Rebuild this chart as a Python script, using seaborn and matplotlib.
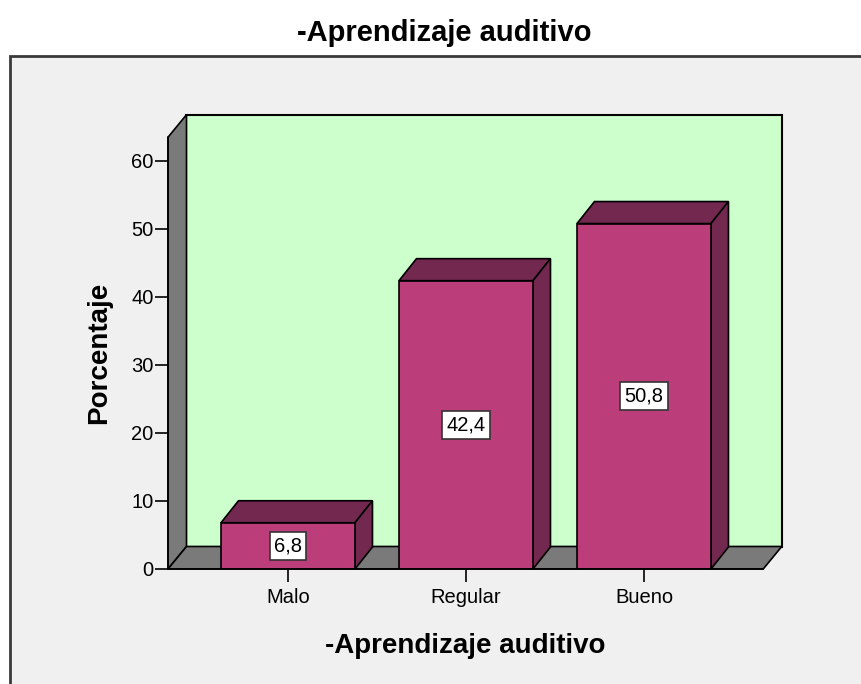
import matplotlib
matplotlib.use("Agg")
import matplotlib.pyplot as plt
from matplotlib.patches import Polygon, Rectangle
import seaborn as sns
import pandas as pd

categories = ["Malo", "Regular", "Bueno"]
values = [6.8, 42.4, 50.8]
value_labels = ["6,8", "42,4", "50,8"]
yticks = [0, 10, 20, 30, 40, 50, 60]
title = "-Aprendizaje auditivo"
xlabel = "-Aprendizaje auditivo"
ylabel = "Porcentaje"

sns.set_theme(style="white")
plt.rcParams['font.family'] = ['Liberation Sans', 'DejaVu Sans']
plt.rcParams['text.color'] = 'black'
plt.rcParams['axes.labelcolor'] = 'black'

W, H = 862, 684
fig = plt.figure(figsize=(W / 100, H / 100), dpi=100, facecolor="white")

# outer panel frame
fig.patches.append(Rectangle((10 / W, -20 / H), (W + 20) / W, (H - 56 + 20) / H,
                             transform=fig.transFigure, facecolor="#F0F0F0",
                             edgecolor="#3a3a3a", linewidth=2, zorder=-5))

# axes covering front plane + depth
px_left, px_right, px_top, px_bottom = 168, 782, 115, 569
ax = fig.add_axes([px_left / W, 1 - px_bottom / H,
                   (px_right - px_left) / W, (px_bottom - px_top) / H])
ax.set_zorder(2)
ax.set_facecolor("none")

px_per_x = 178.0
px_per_y = 6.8
x0 = -0.674
xmax = x0 + (px_right - px_left) / px_per_x
ymax = (px_bottom - px_top) / px_per_y
x1 = 2.67
ytop = 63.5
dx = 18.5 / px_per_x
dy = 22.5 / px_per_y

df = pd.DataFrame({"cat": categories, "val": values})
bw = 134 / px_per_x
sns.barplot(data=df, x="cat", y="val", ax=ax, width=bw, color="#BB3E7B",
            saturation=1, edgecolor="black", linewidth=1.2, zorder=5)

ax.set_xlim(x0, xmax)
ax.set_ylim(0, ymax)

ec = "black"
gray = "#7A7A7A"
# back wall
ax.add_patch(Polygon([(x0 + dx, dy), (x1 + dx, dy), (x1 + dx, ytop + dy), (x0 + dx, ytop + dy)],
                     closed=True, facecolor="#CCFFCC", edgecolor=ec, linewidth=1.5, zorder=1, clip_on=False))
# left wall
ax.add_patch(Polygon([(x0, 0), (x0, ytop), (x0 + dx, ytop + dy), (x0 + dx, dy)],
                     closed=True, facecolor=gray, edgecolor=ec, linewidth=1.2, zorder=2, clip_on=False))
# floor
ax.add_patch(Polygon([(x0, 0), (x1, 0), (x1 + dx, dy), (x0 + dx, dy)],
                     closed=True, facecolor=gray, edgecolor=ec, linewidth=1.2, zorder=2, clip_on=False))

dark = "#73284F"
bdx = 17.5 / px_per_x
bdy = 22 / px_per_y
for p, lab in zip(ax.patches[:len(values)], value_labels):
    bx = p.get_x()
    bwid = p.get_width()
    v = p.get_height()
    ax.add_patch(Polygon([(bx, v), (bx + bwid, v), (bx + bwid + bdx, v + bdy), (bx + bdx, v + bdy)],
                         closed=True, facecolor=dark, edgecolor=ec, linewidth=1.2, zorder=4, clip_on=False))
    ax.add_patch(Polygon([(bx + bwid, 0), (bx + bwid, v), (bx + bwid + bdx, v + bdy), (bx + bwid + bdx, bdy)],
                         closed=True, facecolor=dark, edgecolor=ec, linewidth=1.2, zorder=4, clip_on=False))
    ax.text(bx + bwid / 2, v / 2, lab, ha="center", va="center", fontsize=14.5, color="black", zorder=7,
            bbox=dict(boxstyle="square,pad=0.22", facecolor="white", edgecolor="#333333", linewidth=1.2))

for s in ax.spines.values():
    s.set_visible(False)
ax.plot([x0, x0], [0, ytop], color="black", linewidth=1.2, zorder=6, clip_on=False)
ax.plot([x0, x1], [0, 0], color="black", linewidth=1.2, zorder=6, clip_on=False)

ax.set_yticks(yticks)
ax.set_yticklabels([str(t) for t in yticks])
ax.tick_params(axis="both", which="both", direction="out", length=9.5, width=1.2,
               colors="black", labelsize=14.5, left=True, bottom=True)
ax.tick_params(axis="y", pad=1)
ax.tick_params(axis="x", pad=4)
ax.yaxis.set_ticks_position("left")
ax.set_xlabel(xlabel, fontsize=20, fontweight="bold")
ax.xaxis.set_label_coords(((x0 + x1) / 2 - x0) / (xmax - x0), -0.142)
ax.set_ylabel(ylabel, fontsize=20, fontweight="bold")
ax.yaxis.set_label_coords(-0.091, (ytop / 2) / ymax)

fig.text(444 / W, 1 - 33 / H, title, ha="center", va="center", fontsize=21, fontweight="bold", color="black")

fig.savefig("out.png", dpi=100, facecolor="white")
